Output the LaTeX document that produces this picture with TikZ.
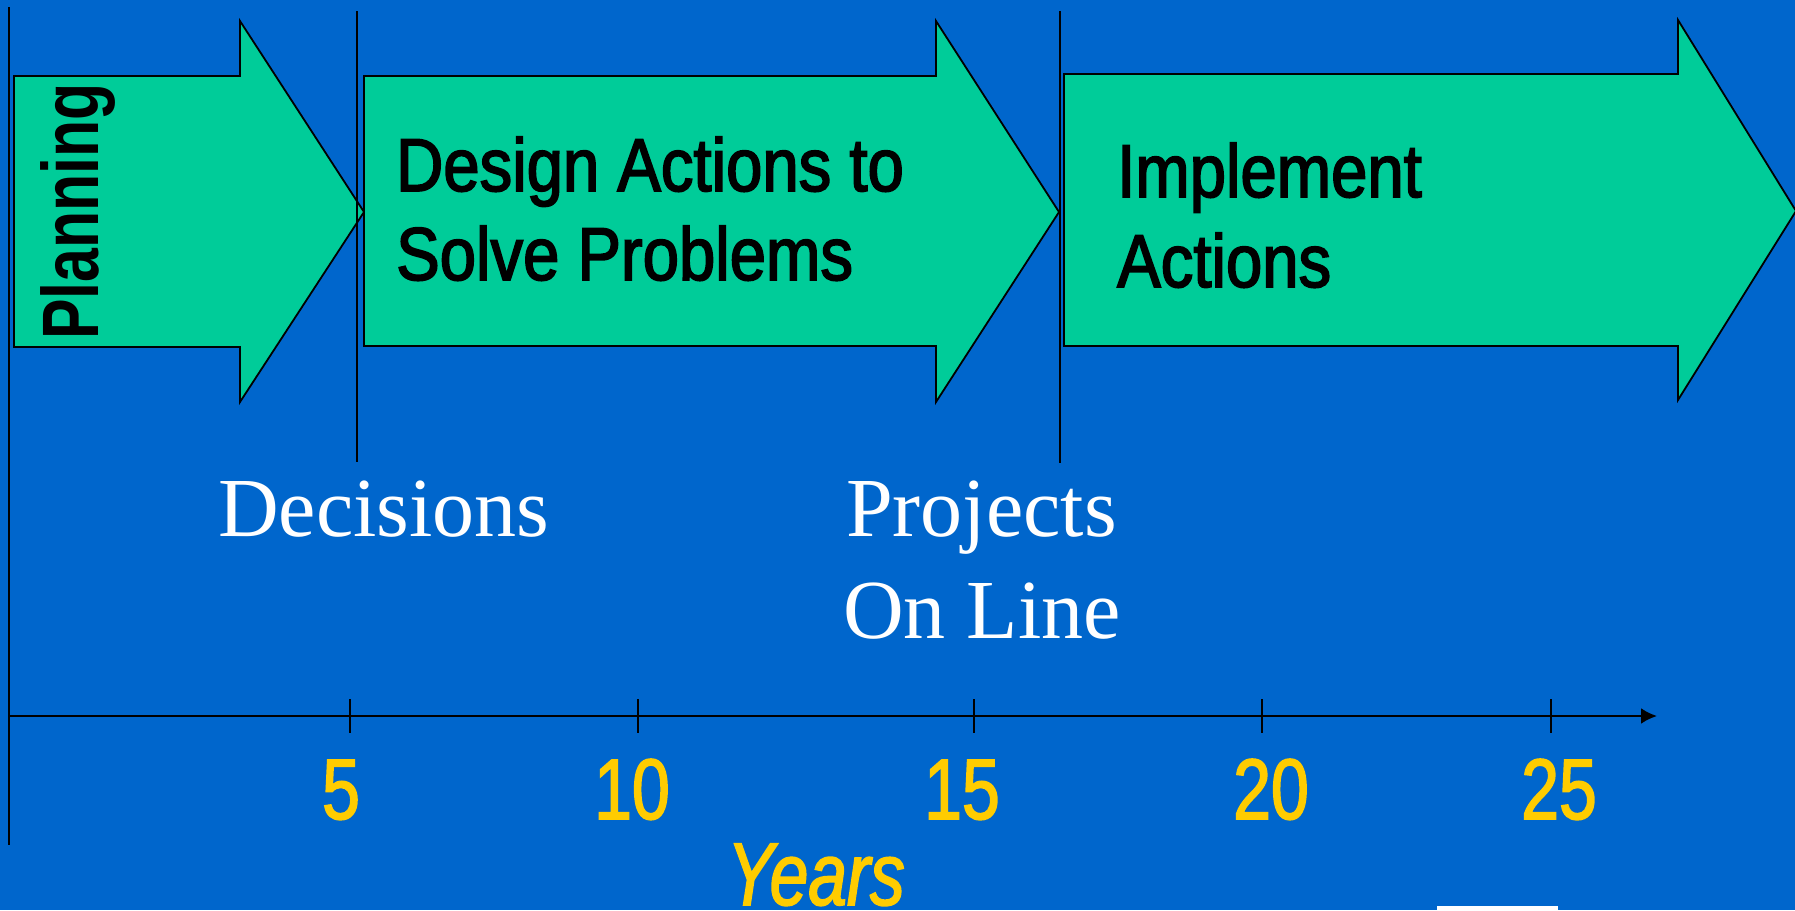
\documentclass[tikz,border=0pt]{standalone}
\usepackage{fontspec}
\usetikzlibrary{arrows.meta}
\setmainfont{Liberation Serif}
\newfontfamily\fA[FakeStretch=0.87,FakeBold=2.2]{Liberation Sans}
\newfontfamily\fB[FakeStretch=0.79,FakeBold=1.8]{Liberation Sans}
\newfontfamily\fC[FakeStretch=0.76]{Liberation Sans}
\newfontfamily\fD[FakeStretch=0.78,FakeBold=1.8]{Liberation Sans}
\definecolor{bgblue}{HTML}{0066CC}
\definecolor{arrgreen}{HTML}{00CC99}
\definecolor{numyellow}{HTML}{FFCC00}
\tikzset{
  phase/.style={fill=arrgreen,draw=black,line width=1.8pt,line join=miter},
  sep/.style={draw=black,line width=2pt},
  phasetext/.style={anchor=base west,inner sep=0pt,font=\fA\fontsize{75}{89}\selectfont,text=black},
  eventtext/.style={anchor=base west,inner sep=0pt,font=\fontsize{84}{100}\selectfont,text=white},
  yeartext/.style={anchor=base,inner sep=0pt,font=\fB\fontsize{86}{100}\selectfont,text=numyellow},
  tick/.style={draw=black,line width=2pt}
}
\begin{document}
\begin{tikzpicture}[x=1pt,y=-1pt]
\useasboundingbox (0,0) rectangle (1795,910);
\clip (0,0) rectangle (1795,910);
\fill[bgblue] (0,0) rectangle (1795,910);
% phase arrows
\draw[phase] (14,76) -- (240,76) -- (240,21) -- (364,212) -- (240,402) -- (240,347) -- (14,347) -- cycle;
\draw[phase] (364,76) -- (936,76) -- (936,21) -- (1059,212) -- (936,402) -- (936,346) -- (364,346) -- cycle;
\draw[phase] (1064,74) -- (1678,74) -- (1678,20) -- (1796,211) -- (1678,400) -- (1678,346) -- (1064,346) -- cycle;
% separators
\coordinate (s0a) at (9,7);   \coordinate (s0b) at (9,845);
\coordinate (s1a) at (357,11); \coordinate (s1b) at (357,462);
\coordinate (s2a) at (1060,11); \coordinate (s2b) at (1060,463);
\draw[sep] (s0a) -- (s0b);
\draw[sep] (s1a) -- (s1b);
\draw[sep] (s2a) -- (s2b);
% phase labels
\node[anchor=base west,inner sep=0pt,rotate=90,font=\fC\bfseries\fontsize{80}{90}\selectfont] (plan) at (98,340) {Planning};
\node[phasetext] (des1) at (396,191) {Design Actions to};
\node[phasetext] (des2) at (396,280) {Solve Problems};
\node[phasetext] (imp1) at (1117,197) {Implement};
\node[phasetext] (imp2) at (1117,287) {Actions};
% events
\node[eventtext] (dec) at (218,536) {Decisions};
\node[eventtext] (proj1) at (846,536) {Projects};
\node[eventtext] (proj2) at (843,638) {On Line};
% axis
\coordinate (ax0) at (9,716);
\coordinate (ax1) at (1657,716);
\draw[line width=2.6pt,-{Latex[length=16pt,width=16pt]}] (ax0) -- (ax1);
\foreach \x in {350,638,974,1262,1551} \draw[tick] (\x,699) -- (\x,733);
\node[yeartext] (y5) at (341,819) {5};
\node[yeartext] (y10) at (632,819) {10};
\node[yeartext] (y15) at (962,819) {15};
\node[yeartext] (y20) at (1271,819) {20};
\node[yeartext] (y25) at (1559,819) {25};
\node[anchor=base,inner sep=0pt,font=\fD\itshape\fontsize{89}{100}\selectfont,text=numyellow] (years) at (816,905) {Years};
% logo fragment
\fill[white] (1437,906) rectangle (1558,912);
\end{tikzpicture}
\end{document}
